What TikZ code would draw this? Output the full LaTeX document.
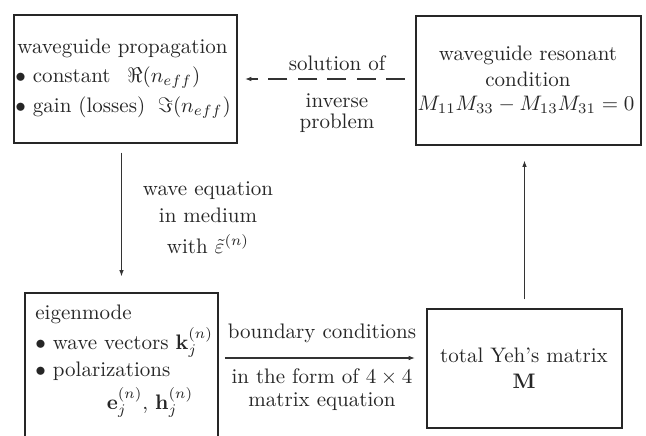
\documentclass[tikz,border=0pt]{standalone}
\usepackage{amsmath,amssymb}
\usetikzlibrary{arrows.meta}
\newcommand{\pxu}{0.476}
\begin{document}
\begin{tikzpicture}[x=0.476pt,y=-0.476pt,
  box/.style={draw=black!85, line width=0.6pt, inner sep=0pt, fill=none},
  txt/.style={inner sep=0pt, text=black!85},
  conn/.style={draw=black!80, line width=0.55pt, -{Latex[length=3pt,width=2.2pt]}},
  dconn/.style={conn, dash pattern=on 9pt off 5pt}]
\useasboundingbox (0,0) rectangle (646,435);
% boxes
\node[box, minimum width={223*\pxu pt}, minimum height={128*\pxu pt}] (b1) at (125.5,79) {};
\node[box, minimum width={225*\pxu pt}, minimum height={129*\pxu pt}] (b2) at (528.5,80.5) {};
\node[box, minimum width={193*\pxu pt}, minimum height={160*\pxu pt}] (b3) at (121.5,373) {};
\node[box, minimum width={195*\pxu pt}, minimum height={119*\pxu pt}] (b4) at (524.5,368.5) {};
% box 1 text
\node[txt, anchor=base west] (t11) at (17,53) {waveguide propagation};
\node[txt, anchor=base west] (t12) at (15,82) {$\bullet$ constant\hspace{0.8em}$\Re(n_{eff})$};
\node[txt, anchor=base west] (t13) at (15,112) {$\bullet$ gain (losses)\hspace{0.6em}$\Im(n_{eff})$};
% box 2 text
\node[txt, anchor=base] (t21) at (528,60) {waveguide resonant};
\node[txt, anchor=base] (t22) at (528,86) {condition};
\node[txt, anchor=base] (t23) at (526,110) {$M_{11}M_{33}-M_{13}M_{31}=0$};
% box 3 text
\node[txt, anchor=base west] (t31) at (35,319) {eigenmode};
\node[txt, anchor=base west] (t32) at (35,349) {$\bullet$ wave vectors $\mathbf{k}_j^{(n)}$};
\node[txt, anchor=base west] (t33) at (35,376) {$\bullet$ polarizations};
\node[txt, anchor=base] (t34) at (150,409) {$\mathbf{e}_j^{(n)}$, $\mathbf{h}_j^{(n)}$};
% box 4 text
\node[txt, anchor=base] (t41) at (524,362) {total Yeh's matrix};
\node[txt, anchor=base] (t42) at (524,388) {$\mathbf{M}$};
% connectors
\coordinate (d1) at (405,79);
\coordinate (d2) at (245,79);
\coordinate (h1) at (218,358);
\coordinate (h2) at (427,358);
\draw[dconn] (d1) -- (d2);
\draw[conn, shorten <=4.3pt, shorten >=7.6pt] (b3.north |- b1.south) -- (b3.north);
\draw[conn, shorten <=3.3pt, shorten >=5.7pt] (h1) -- (h2);
\draw[conn, shorten <=4.3pt, shorten >=7.1pt] (b4.north) -- (b4.north |- b2.south);
% connector labels
\node[txt, anchor=base] (l1) at (337,70) {solution of};
\node[txt, anchor=base] (l2) at (337,107) {inverse};
\node[txt, anchor=base] (l3) at (337,128) {problem};
\node[txt, anchor=base] (l4) at (208,195) {wave equation};
\node[txt, anchor=base] (l5) at (208,222) {in medium};
\node[txt, anchor=base] (l6) at (208,253) {with $\tilde{\varepsilon}^{(n)}$};
\node[txt, anchor=base] (l7) at (322,338) {boundary conditions};
\node[txt, anchor=base] (l8) at (322,383) {in the form of $4\times4$};
\node[txt, anchor=base] (l9) at (322,406) {matrix equation};
\end{tikzpicture}
\end{document}
